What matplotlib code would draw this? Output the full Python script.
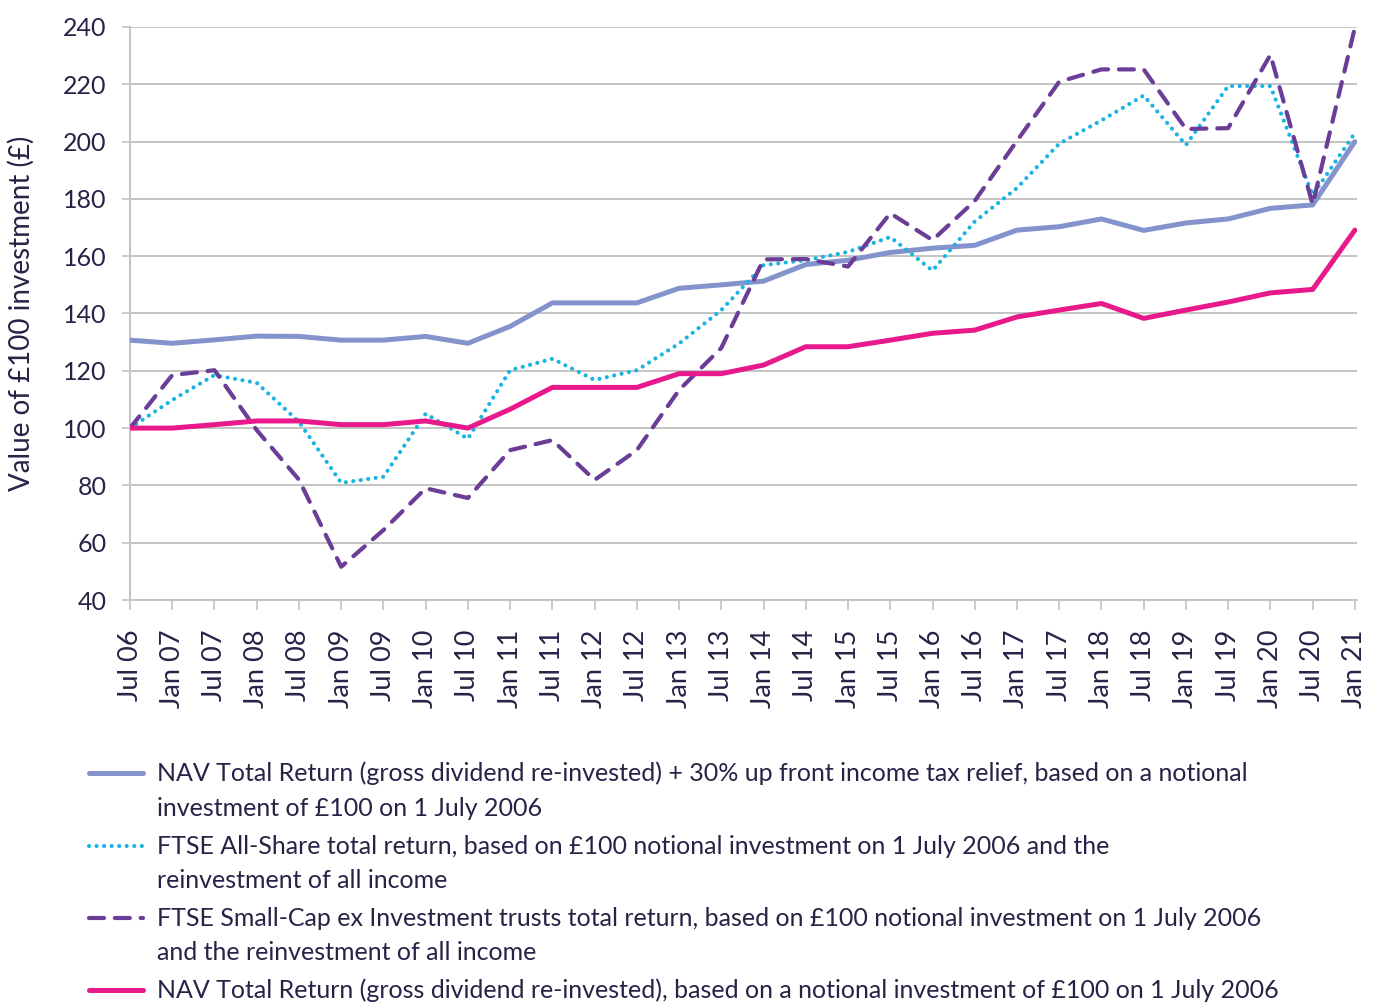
import matplotlib
matplotlib.use('Agg')
import matplotlib.pyplot as plt
from matplotlib.lines import Line2D

plt.rcParams['font.family'] = ['Lato', 'DejaVu Sans']

# x-axis categories (half-yearly)
periods = ['Jul 06', 'Jan 07', 'Jul 07', 'Jan 08', 'Jul 08', 'Jan 09', 'Jul 09', 'Jan 10',
           'Jul 10', 'Jan 11', 'Jul 11', 'Jan 12', 'Jul 12', 'Jan 13', 'Jul 13', 'Jan 14',
           'Jul 14', 'Jan 15', 'Jul 15', 'Jan 16', 'Jul 16', 'Jan 17', 'Jul 17', 'Jan 18',
           'Jul 18', 'Jan 19', 'Jul 19', 'Jan 20', 'Jul 20', 'Jan 21']

# values of a notional £100 investment
nav_relief = [130.7, 129.6, 130.8, 132.1, 132.0, 130.7, 130.7, 132.0, 129.6, 135.5,
              143.7, 143.7, 143.7, 148.8, 150.0, 151.3, 157.1, 158.6, 161.3, 162.8,
              163.8, 169.1, 170.3, 173.0, 169.0, 171.6, 173.0, 176.7, 177.9, 200.0]
all_share = [100.0, 109.8, 118.5, 115.8, 102.2, 80.9, 83.0, 105.0, 96.3, 120.2,
             124.2, 116.8, 120.2, 129.5, 141.2, 156.9, 158.6, 161.5, 166.7, 155.0,
             172.1, 183.8, 199.3, 207.4, 216.1, 198.8, 219.4, 219.4, 181.3, 203.0]
small_cap = [100.0, 118.5, 120.2, 99.3, 82.0, 51.6, 64.4, 79.0, 75.6, 92.3,
             95.8, 81.9, 92.3, 113.3, 128.0, 158.9, 159.0, 156.4, 175.0, 165.6,
             179.3, 200.3, 220.9, 225.2, 225.2, 204.4, 204.7, 230.3, 178.1, 239.8]
nav = [100.0, 100.0, 101.2, 102.5, 102.5, 101.2, 101.2, 102.5, 100.0, 106.6,
       114.2, 114.2, 114.2, 119.0, 119.0, 122.0, 128.4, 128.4, 130.7, 133.1,
       134.2, 138.8, 141.2, 143.5, 138.3, 141.2, 144.0, 147.2, 148.4, 169.1]

legend_lines = [
    ['NAV Total Return (gross dividend re-invested) + 30% up front income tax relief, based on a notional',
     'investment of £100 on 1 July 2006'],
    ['FTSE All-Share total return, based on £100 notional investment on 1 July 2006 and the',
     'reinvestment of all income'],
    ['FTSE Small-Cap ex Investment trusts total return, based on £100 notional investment on 1 July 2006',
     'and the reinvestment of all income'],
    ['NAV Total Return (gross dividend re-invested), based on a notional investment of £100 on 1 July 2006'],
]

text_col = '#2b2147'
grid_col = '#c4c4c4'
styles = [
    dict(color='#8493cb', lw=3.6, ls='-', solid_capstyle='round'),
    dict(color='#1ab4e3', lw=3.0, ls=(0, (0.01, 1.8)), dash_capstyle='round'),
    dict(color='#6a3d97', lw=3.0, ls=(0, (3.6, 2.6)), dash_capstyle='round'),
    dict(color='#e8198b', lw=3.6, ls='-', solid_capstyle='round'),
]
series = [nav_relief, all_share, small_cap, nav]

W, H = 1376, 1006
fig = plt.figure(figsize=(W / 100, H / 100), dpi=100)
ax = fig.add_axes([130 / W, 1 - 600 / H, (1357 - 130) / W, (600 - 27) / H])

x = list(range(len(periods)))
for s, st in zip(series, styles):
    ax.plot(x, s, **st, zorder=3)

ax.set_xlim(0, len(periods) - 1 + 0.05)
ax.set_ylim(40, 240)
ax.set_yticks(range(40, 241, 20))
ax.set_xticks(x)
ax.set_xticklabels(periods, rotation=90, fontsize=19.5)
ax.tick_params(axis='y', labelsize=18, colors=grid_col, labelcolor=text_col, length=6, width=1.2, pad=11)
ax.tick_params(axis='x', colors=grid_col, labelcolor=text_col, length=7.5, width=1.2, pad=14)
ax.grid(axis='y', color=grid_col, lw=1.4)
ax.set_axisbelow(True)
for side in ['top', 'right']:
    ax.spines[side].set_visible(False)
for side in ['left', 'bottom']:
    ax.spines[side].set_color(grid_col)
    ax.spines[side].set_linewidth(1.4)
ax.set_ylabel('Value of £100 investment (£)', fontsize=20, color=text_col)
ax.yaxis.set_label_coords(-0.078, 0.5)

# legend drawn below the plot, handle aligned with the first text line
first_rows = [773, 846, 918, 990]
row_gap = 35
for rows, y0, st in zip(legend_lines, first_rows, styles):
    yf = 1 - y0 / H
    fig.add_artist(Line2D([89 / W, 143 / W], [yf, yf], transform=fig.transFigure, **st))
    for k, line in enumerate(rows):
        fig.text(157 / W, 1 - (y0 + k * row_gap) / H, line, fontsize=18,
                 color=text_col, va='center', ha='left')

fig.savefig('out.png', dpi=100)
